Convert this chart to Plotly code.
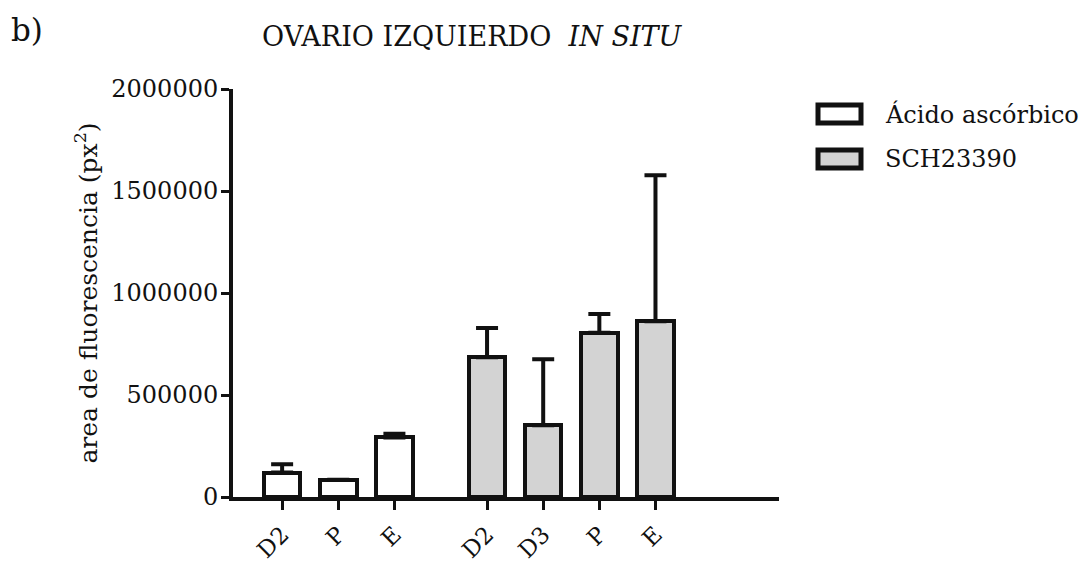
import plotly.graph_objects as go

# Fluorescence area per phase, left ovary in situ
groups = ["Ácido ascórbico", "SCH23390"]
phases_ascorbic = ["D2", "P", "E"]
means_ascorbic = [120000, 85000, 292000]
sem_ascorbic = [40000, 0, 18000]

phases_sch = ["D2", "D3", "P", "E"]
means_sch = [685000, 352000, 805000, 862000]
sem_sch = [143000, 323000, 92000, 715000]

y_ticks = [0, 500000, 1000000, 1500000, 2000000]

FONT = "DejaVu Serif"
INK = "#111111"
FILLS = ["#ffffff", "#d3d3d3"]

# column positions: one slot per phase, with a wider gap between treatment groups
GAP = 0.65
pos_a = [float(i) for i in range(len(phases_ascorbic))]
start_b = len(phases_ascorbic) + GAP
pos_b = [start_b + i for i in range(len(phases_sch))]

fig = go.Figure()
for name, xs, ys, errs, fill in [
    (groups[0], pos_a, means_ascorbic, sem_ascorbic, FILLS[0]),
    (groups[1], pos_b, means_sch, sem_sch, FILLS[1]),
]:
    fig.add_trace(go.Bar(
        x=xs, y=ys, name=name, width=0.65,
        marker=dict(color=fill, line=dict(color=INK, width=4)),
        error_y=dict(type="data", array=errs, arrayminus=[0] * len(errs),
                     symmetric=False, color=INK, thickness=4, width=11),
        showlegend=False,
    ))

L, R, T, B = 233, 304, 89, 69
W, H = 1083, 566
pw, ph = W - L - R, H - T - B


def px(x):
    return (x - L) / pw


def py(y):
    return (H - B - y) / ph


fig.update_layout(
    width=W, height=H,
    margin=dict(l=L, r=R, t=T, b=B, autoexpand=False),
    paper_bgcolor="white", plot_bgcolor="white",
    font=dict(family=FONT, color=INK, size=22),
    bargap=0,
    xaxis=dict(
        range=[-0.875, pos_b[-1] + 2.2],
        tickvals=pos_a + pos_b,
        ticktext=phases_ascorbic + phases_sch,
        tickangle=-45,
        ticks="outside", ticklen=9, tickwidth=3, tickcolor=INK,
        showline=True, linewidth=4, linecolor=INK,
        showgrid=False, zeroline=False, automargin=False,
        ticklabelstandoff=2,
        tickfont=dict(family=FONT, size=23, color=INK),
    ),
    yaxis=dict(
        range=[0, 2000000],
        tickvals=y_ticks,
        tickformat="d",
        ticks="outside", ticklen=8, tickwidth=3, tickcolor=INK,
        showline=True, linewidth=4, linecolor=INK,
        showgrid=False, zeroline=False, automargin=False,
        ticklabelstandoff=-2,
        tickfont=dict(family=FONT, size=24, color=INK),
        title=dict(text="area de fluorescencia (px<sup>2</sup>)",
                   font=dict(family=FONT, size=25, color=INK), standoff=8),
    ),
)

# panel letter and title
fig.add_annotation(x=px(27), y=py(30), xref="paper", yref="paper",
                   xanchor="center", yanchor="middle",
                   text="b)", showarrow=False, font=dict(size=31, family=FONT, color=INK))
fig.add_annotation(x=px(472), y=py(36), xref="paper", yref="paper",
                   xanchor="center", yanchor="middle",
                   text="OVARIO IZQUIERDO  <i>IN SITU</i>", showarrow=False,
                   font=dict(size=27, family=FONT, color=INK))

# legend swatches with heavy outlines
for i, (name, fill) in enumerate(zip(groups, FILLS)):
    cy = 114 + 45 * i
    fig.add_shape(type="rect", xref="paper", yref="paper",
                  x0=px(818), x1=px(861), y0=py(cy - 9), y1=py(cy + 9),
                  fillcolor=fill, line=dict(color=INK, width=5))
    fig.add_annotation(x=px(883), y=py(cy), xref="paper", yref="paper",
                       xanchor="left", yanchor="middle", text=name, showarrow=False,
                       font=dict(size=24, family=FONT, color=INK))

fig.write_html("out.html")
